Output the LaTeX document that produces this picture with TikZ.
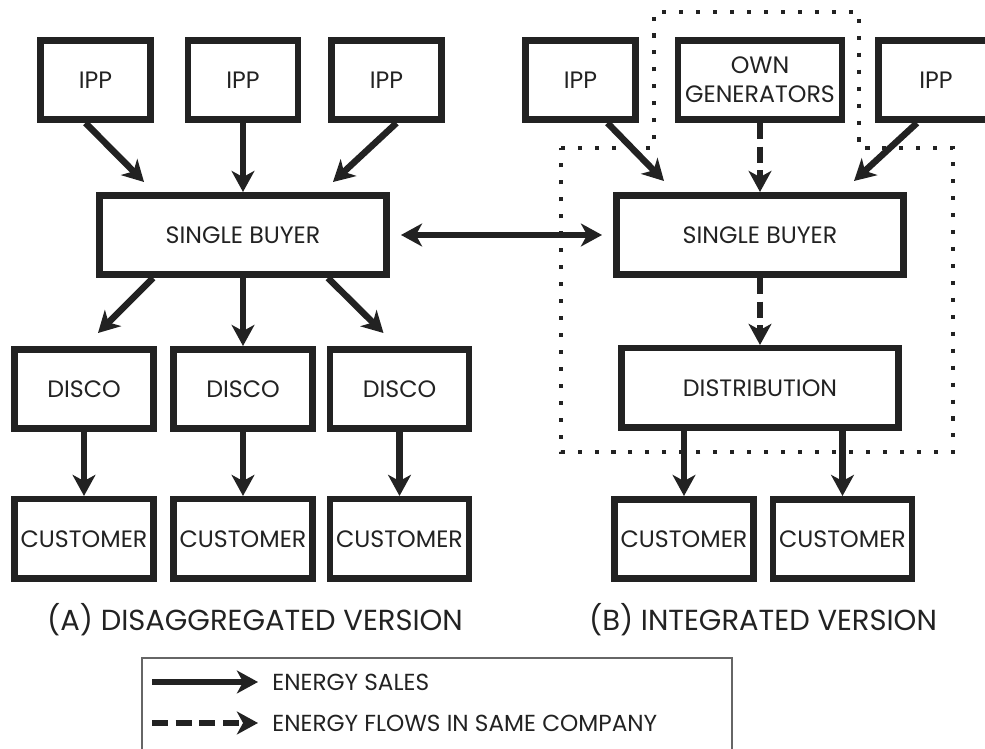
\documentclass[tikz,border=0pt]{standalone}
\usepackage{fontspec}
\setmainfont{Poppins}
\usetikzlibrary{
  arrows.meta,
  calc,
  positioning,
}
\definecolor{ink}{HTML}{222222}
\tikzset{
  x = 0.02cm,
  y = -0.02cm,
  n/.style={
    draw=ink, line width=3.7pt, text=ink, align=center,
    minimum width=2.79cm, minimum height=1.59cm,
    inner sep=0pt,
  },
  head/.tip={Stealth[length=12pt, width=13pt, inset=3.5pt]},
}

\begin{document}
\begin{tikzpicture}[
  font=\fontsize{13.5}{16.5}\selectfont,
  arr/.style={-head, line width=3.7pt, draw=ink},
  twoway/.style={arr, head-head, shorten <=0.22cm, shorten >=0.22cm},
  flow/.style={arr, dash pattern=on 9pt off 4.5pt},
  ttl/.style={font=\fontsize{16.5}{19}\selectfont, text=ink},
  lg/.style={font=\fontsize{13.2}{15}\selectfont, text=ink,
    anchor=west, inner xsep=8pt},]
  \useasboundingbox (0,0) rectangle (985,749);
  \clip (0,0) rectangle (985,749);
  %% dotted company border
  \draw[ink, line width=2.3pt, dash pattern=on 2.3pt off 7.35pt]
  (561,148) -- (654,148) -- (654,12) -- (859,12) -- (859,148)
  -- (953,148) -- (953,452) -- (561,452) -- cycle;
  %% (A) disaggregated
  \node[n, minimum width=2.21cm] (IppA) at (95.5,80) {IPP};
  \node[n, minimum width=2.21cm] (IppB) at (243,80) {IPP};
  \node[n, minimum width=2.21cm] (IppC) at (386.5,80) {IPP};
  \node[n, minimum width=5.75cm] (BuyerA) at (243,235) {SINGLE BUYER};
  \node[n] (DiscoA) at (84,389) {DISCO};
  \node[n] (DiscoB) at (243,389) {DISCO};
  \node[n] (DiscoC) at (399.5,389) {DISCO};
  \node[n, below=1.28cm of DiscoA] (CustA) {CUSTOMER};
  \node[n, below=1.28cm of DiscoB] (CustB) {CUSTOMER};
  \node[n, below=1.28cm of DiscoC] (CustC) {CUSTOMER};
  %%
  \draw[arr] ($(IppA.south)+(-10,0)$) -- ($(BuyerA.north west)+(48,-10)$);
  \draw[arr] (IppB) -- (BuyerA);
  \draw[arr] ($(IppC.south)+(10,0)$) -- ($(BuyerA.north east)+(-57,-10)$);
  \draw[arr] ($(BuyerA.south west)+(57,0)$) -- ($(DiscoA.north)+(14,-13)$);
  \draw[arr] (BuyerA) -- (DiscoB);
  \draw[arr] ($(BuyerA.south east)+(-62,0)$) -- ($(DiscoC.north)+(-16,-13)$);
  \foreach \d/\c in {DiscoA/CustA, DiscoB/CustB, DiscoC/CustC}
  \draw[arr] (\d) -- (\c);
  %% (B) integrated
  \node[n, minimum width=2.21cm] (IppD) at (580.5,80) {IPP};
  \node[n, minimum width=3.29cm] (Own) at (760,80) {OWN\\GENERATORS};
  \node[n, minimum width=2.31cm] (IppE) at (936,80) {IPP};
  \node[n, minimum width=5.75cm] (BuyerB) at (760,235) {SINGLE BUYER};
  \node[n, minimum width=5.55cm, below=1.34cm of BuyerB] (Dist) {DISTRIBUTION};
  \node[n] (CustD) at (684,539) {CUSTOMER};
  \node[n] (CustE) at (842.5,539) {CUSTOMER};
  %%
  \draw[twoway] (BuyerA) -- (BuyerB);
  \draw[arr] ($(IppD.south)+(27,0)$) -- ($(BuyerB.north west)+(51,-11)$);
  \draw[flow] (Own) -- (BuyerB);
  \draw[arr] ($(IppE.south)+(-19,0)$) -- ($(BuyerB.north east)+(-53,-11)$);
  \draw[flow] (BuyerB) -- (Dist);
  \draw[arr] (CustD |- Dist.south) -- (CustD);
  \draw[arr] (CustE |- Dist.south) -- (CustE);
  %% captions
  \node[ttl] (TtlA) at (255,620) {(A) DISAGGREGATED VERSION};
  \node[ttl] (TtlB) at (763,620) {(B) INTEGRATED VERSION};
  %% legend
  \draw[gray!80!black, line width=0.7pt] (142,760) |- (732,658) -- (732,760);
  \coordinate (SalesFrom) at (152,682);
  \node[lg] (Sales) at (258,682) {ENERGY SALES};
  \draw[arr] (SalesFrom) -- (Sales.west);
  \coordinate (FlowFrom) at (152,723);
  \node[lg] (Flow) at (258,723) {ENERGY FLOWS IN SAME COMPANY};
  \draw[flow] (FlowFrom) -- (Flow.west);
\end{tikzpicture}
\end{document}
